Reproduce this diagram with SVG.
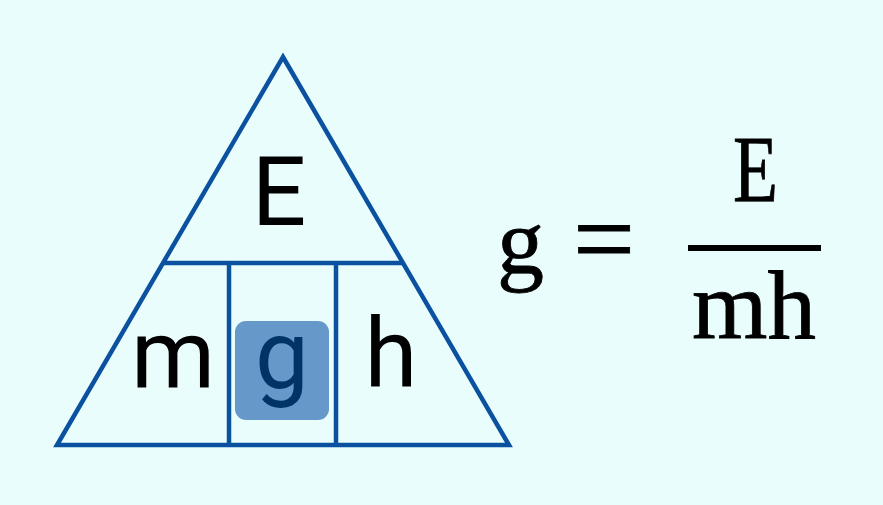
<svg xmlns="http://www.w3.org/2000/svg" width="883" height="505" viewBox="0 0 883 505">
<style>
.ln{fill:none;stroke:#0a52a0;stroke-width:4.5}
.sans{font-family:Roboto,"Noto Sans",sans-serif;font-size:96px;fill:#000;text-anchor:middle}
.serif{font-family:"Liberation Serif","Times New Roman",serif;fill:#000;stroke:#000;stroke-width:0.8}
</style>
<rect width="883" height="505" fill="#eafdfd"/>
<g id="connectors">
<polygon class="ln" points="283,57 509,445 57,445"/>
<line class="ln" x1="163" y1="263" x2="403" y2="263"/>
<line class="ln" x1="229" y1="263" x2="229" y2="445"/>
<line class="ln" x1="336" y1="263" x2="336" y2="445"/>
</g>
<g id="node-E"><text class="sans" x="279" y="225">E</text></g>
<g id="node-m"><text class="sans" x="173" y="388">m</text></g>
<g id="node-g">
<rect x="235" y="321" width="94" height="99" rx="11" fill="#6699c9"/>
<text class="sans" x="282" y="388" style="fill:#003366">g</text>
</g>
<g id="node-h"><text class="sans" x="391" y="387">h</text></g>
<g id="formula">
<text class="serif" x="497" y="273" font-size="94">g</text>
<text class="serif" x="604" y="276" font-size="110" text-anchor="middle">=</text>
<text class="serif" x="733" y="202" font-size="95" textLength="45" lengthAdjust="spacingAndGlyphs">E</text>
<rect x="688" y="245" width="133" height="6" fill="#000"/>
<text class="serif" x="692" y="338" font-size="97">mh</text>
</g>
</svg>
